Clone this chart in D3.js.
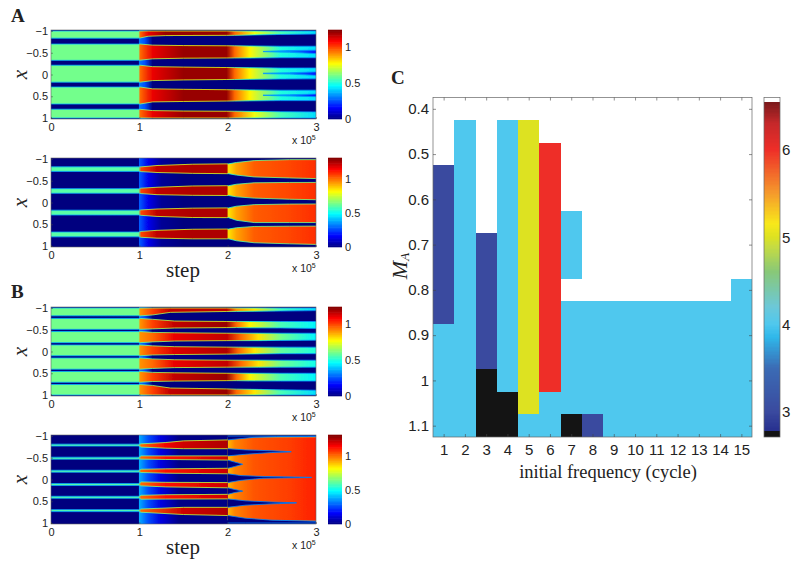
<!DOCTYPE html>
<html><head><meta charset="utf-8">
<script src="https://cdn.jsdelivr.net/npm/d3@7"></script>
<style>
html,body{margin:0;padding:0;background:#fff}
svg{display:block}
text{fill:#222}
.tk{font-family:"Liberation Sans",Arial,sans-serif;font-size:11px}
.tkc{font-family:"Liberation Sans Narrow","Liberation Sans",sans-serif;font-size:15px}
.serif{font-family:"Liberation Serif",serif}
</style></head><body>
<svg id="c" width="800" height="566"></svg>
<script>
// ---------- data: heat-map bands, rows are [step(x10^5), xTop, xBottom, value]
const xTicks=[0,1,2,3], yTicks=[-1,-0.5,0,0.5,1], cbTicks=[0,0.5,1];
const bgA1=[[0,0],[0.99,0],[1.0,0.3],[1.06,0.25],[1.15,0],[3,0]];
const bgA2=[[0,0],[0.99,0],[1.0,0.28],[1.1,0.14],[1.25,0.03],[1.5,0],[3,0]];
const bgB1=[[0,0],[0.99,0],[1.0,0.3],[1.06,0.25],[1.15,0],[3,0]];
const bgB2=[[0,0],[0.99,0],[1.0,0.38],[1.1,0.26],[1.25,0.12],[1.45,0.01],[3,0]];
const bandsA1=[
 [[0,-1,-.835,.6],[.99,-1,-.835,.6],[1.01,-1,-.84,.95],[1.1,-1,-.88,1.1],[1.3,-1,-.895,1.2],[1.99,-1,-.9,1.2],[2.08,-1,-.9,.95],[2.3,-1,-.91,.75],[2.6,-1,-.92,.55],[3,-1,-.93,.42]],
 [[0,-.7,-.326,.6],[.99,-.7,-.326,.6],[1.01,-.7,-.33,.95],[1.15,-.675,-.36,1.1],[1.5,-.665,-.375,1.2],[1.99,-.66,-.38,1.2],[2.08,-.66,-.38,.95],[2.25,-.655,-.38,.78],[2.6,-.65,-.385,.5],[3,-.65,-.385,.42]],
 [[2.4,-.53,-.525,.42],[2.7,-.55,-.51,.32],[3,-.56,-.48,.18]],
 [[0,-.213,.176,.6],[.99,-.213,.176,.6],[1.01,-.213,.176,.95],[1.15,-.18,.14,1.1],[1.5,-.17,.125,1.2],[1.99,-.16,.115,1.2],[2.08,-.16,.115,.95],[2.25,-.155,.11,.78],[2.6,-.15,.105,.5],[3,-.15,.1,.42]],
 [[2.4,-.03,-.02,.42],[2.7,-.04,-.01,.32],[3,-.06,.02,.18]],
 [[0,.288,.678,.6],[.99,.288,.678,.6],[1.01,.288,.678,.95],[1.15,.33,.63,1.1],[1.5,.34,.62,1.2],[1.99,.35,.61,1.2],[2.08,.35,.61,.95],[2.25,.355,.605,.78],[2.6,.36,.6,.5],[3,.36,.6,.42]],
 [[2.4,.475,.48,.42],[2.7,.465,.495,.32],[3,.45,.51,.18]],
 [[0,.798,1,.6],[.99,.798,1,.6],[1.01,.8,1,.95],[1.15,.83,1,1.1],[1.5,.84,1,1.2],[1.99,.845,1,1.2],[2.08,.845,1,.95],[2.3,.85,1,.75],[2.6,.855,1,.55],[3,.86,1,.42]]
];
const bandsA2=[
 [[0,-.82,-.715,.6],[.99,-.82,-.715,.6],[1.02,-.82,-.71,1.05],[1.2,-.85,-.69,1.22],[1.6,-.88,-.67,1.24],[1.99,-.888,-.663,1.24],[2.01,-.888,-.663,.85],[2.1,-.92,-.63,.93],[2.3,-.963,-.588,1.02],[2.7,-.985,-.565,1.05],[3,-.985,-.55,1.08]],
 [[0,-.318,-.213,.6],[.99,-.318,-.213,.6],[1.02,-.33,-.205,1.05],[1.2,-.35,-.18,1.22],[1.6,-.38,-.165,1.24],[1.99,-.386,-.161,1.24],[2.01,-.386,-.161,.85],[2.1,-.42,-.13,.93],[2.3,-.453,-.101,1.02],[2.7,-.461,-.075,1.05],[3,-.461,-.064,1.08]],
 [[0,.176,.288,.6],[.99,.176,.288,.6],[1.02,.17,.295,1.05],[1.2,.15,.32,1.22],[1.6,.13,.345,1.24],[1.99,.124,.348,1.24],[2.01,.124,.348,.85],[2.1,.085,.41,.93],[2.3,.049,.461,1.02],[2.7,.036,.461,1.05],[3,.034,.461,1.08]],
 [[0,.678,.79,.6],[.99,.678,.79,.6],[1.02,.665,.8,1.05],[1.2,.64,.82,1.22],[1.6,.615,.835,1.24],[1.99,.61,.835,1.24],[2.01,.61,.835,.85],[2.1,.58,.88,.93],[2.3,.551,.925,1.02],[2.7,.545,.95,1.05],[3,.543,.963,1.08]]
];
const bandsB1=[
 [[0,-1,-.82,.6],[.99,-1,-.82,.6],[1.01,-1,-.82,.9],[1.15,-1,-.84,1.0],[1.35,-1,-.9,1.15],[1.99,-1,-.92,1.15],[2.1,-1,-.92,.9],[2.3,-1,-.925,.8],[2.6,-1,-.93,.55],[3,-1,-.94,.42]],
 [[0,-.76,-.51,.6],[.99,-.76,-.51,.6],[1.01,-.76,-.51,.9],[1.15,-.74,-.52,1.0],[1.4,-.7,-.54,1.15],[1.99,-.69,-.55,1.2],[2.1,-.69,-.55,.95],[2.25,-.69,-.545,.78],[2.6,-.69,-.54,.55],[3,-.69,-.53,.45]],
 [[0,-.459,-.203,.6],[.99,-.459,-.203,.6],[1.01,-.459,-.203,.9],[1.15,-.44,-.22,.95],[1.4,-.43,-.24,1.1],[1.99,-.42,-.25,1.15],[2.15,-.42,-.25,.95],[2.35,-.42,-.25,.8],[2.6,-.42,-.255,.6],[3,-.42,-.26,.45]],
 [[0,-.15,.098,.6],[.99,-.15,.098,.6],[1.01,-.15,.098,.9],[1.15,-.13,.08,1.0],[1.4,-.11,.07,1.12],[1.99,-.1,.06,1.17],[2.12,-.1,.06,.95],[2.3,-.1,.055,.8],[2.6,-.1,.05,.58],[3,-.1,.05,.5]],
 [[0,.15,.406,.6],[.99,.15,.406,.6],[1.01,.15,.406,.9],[1.15,.17,.39,.95],[1.4,.19,.37,1.1],[1.99,.2,.36,1.15],[2.15,.2,.36,.95],[2.35,.2,.36,.8],[2.6,.2,.36,.6],[3,.2,.36,.48]],
 [[0,.459,.707,.6],[.99,.459,.707,.6],[1.01,.459,.707,.9],[1.15,.48,.69,1.0],[1.4,.49,.68,1.15],[1.99,.5,.67,1.2],[2.1,.5,.67,.95],[2.25,.5,.675,.78],[2.6,.5,.68,.55],[3,.5,.68,.45]],
 [[0,.759,1,.6],[.99,.759,1,.6],[1.01,.759,1,.9],[1.15,.78,1,1.0],[1.35,.84,1,1.15],[1.99,.86,1,1.2],[2.1,.865,1,.95],[2.3,.87,1,.8],[2.6,.88,1,.55],[3,.89,1,.42]]
];
const bandsB2=[
 [[2,-.96,.93,.9],[2.08,-.97,.94,.97],[2.3,-.98,.95,1.03],[2.7,-.98,.955,1.06],[3,-.98,.96,1.1]],
 [[2,-1,-.91,0],[2.3,-1,-.97,0],[2.55,-1,-.985,0],[3,-1,-.99,0]],
 [[2,-.708,-.543,0],[2.2,-.68,-.58,0],[2.5,-.66,-.62,0],[2.72,-.64,-.635,0]],
 [[2,-.446,-.258,0],[2.08,-.4,-.3,0],[2.17,-.352,-.348,0]],
 [[2,-.131,.071,0],[2.15,-.09,.02,0],[2.4,-.07,-.03,0],[2.95,-.05,-.045,0]],
 [[2,.191,.341,0],[2.08,.23,.3,0],[2.17,.265,.268,0]],
 [[2,.446,.64,0],[2.2,.49,.59,0],[2.5,.52,.56,0],[2.78,.535,.54,0]],
 [[2,.828,1,0],[2.2,.89,1,0],[2.5,.935,1,0],[3,.96,1,0]],
 [[0,-.813,-.768,.6],[.99,-.813,-.768,.6],[1.02,-.82,-.745,1.0],[1.3,-.85,-.72,1.15],[1.5,-.888,-.708,1.2],[2,-.91,-.708,1.24]],
 [[0,-.513,-.468,.6],[.99,-.513,-.468,.6],[1.02,-.543,-.468,1.0],[1.3,-.543,-.46,1.12],[2,-.543,-.446,1.2]],
 [[0,-.213,-.168,.6],[.99,-.213,-.168,.6],[1.02,-.236,-.161,1.0],[1.3,-.245,-.145,1.12],[2,-.258,-.131,1.2]],
 [[0,.094,.139,.6],[.99,.094,.139,.6],[1.02,.056,.146,1.0],[1.3,.065,.17,1.12],[2,.071,.191,1.2]],
 [[0,.386,.431,.6],[.99,.386,.431,.6],[1.02,.363,.453,1.0],[1.3,.35,.45,1.12],[2,.341,.446,1.2]],
 [[0,.693,.738,.6],[.99,.693,.738,.6],[1.02,.678,.753,1.0],[1.5,.64,.805,1.2],[2,.64,.828,1.24]]
];
const panelTitles=["A","B","C"];
// ---------- data: panel C
const freqs=d3.range(1,16);
const maValues=[.4,.45,.5,.55,.6,.65,.7,.75,.8,.85,.9,.95,1,1.05,1.1];
const maTicks=[.4,.5,.6,.7,.8,.9,1,1.1];
const W=null, K=2.72;
const colFreq1=[W,W,W,3,3,3,3,3,3,3,4,4,4,4,4];
const colFreq2=[W,4,4,4,4,4,4,4,4,4,4,4,4,4,4];
const colFreq3=[W,W,W,W,W,W,3,3,3,3,3,3,K,K,K];
const colFreq4=[W,4,4,4,4,4,4,4,4,4,4,4,4,K,K];
const colFreq5=[W,5,5,5,5,5,5,5,5,5,5,5,5,5,4];
const colFreq6=[W,W,6,6,6,6,6,6,6,6,6,6,6,4,4];
const colFreq7=[W,W,W,W,W,4,4,4,W,4,4,4,4,4,K];
const colFreq8=[W,W,W,W,W,W,W,W,W,4,4,4,4,4,3];
const colFreq9=[W,W,W,W,W,W,W,W,W,4,4,4,4,4,4];
const colFreq10=colFreq9, colFreq11=colFreq9, colFreq12=colFreq9, colFreq13=colFreq9, colFreq14=colFreq9;
const colFreq15=[W,W,W,W,W,W,W,W,4,4,4,4,4,4,4];
const matrixC=[colFreq1,colFreq2,colFreq3,colFreq4,colFreq5,colFreq6,colFreq7,colFreq8,colFreq9,colFreq10,colFreq11,colFreq12,colFreq13,colFreq14,colFreq15];
const cbCStops=[2.71,2.77,2.78,3,3.5,3.85,4,4.2,4.6,4.9,5,5.15,5.5,6,6.3,6.54];
const cbCColors=["#141414","#141414","#27308f","#3a4a9f","#3b6cb5","#2fb7ea","#4fc8ee","#6cc8d8","#88c878","#c8dc40","#dde221","#f8e81a","#f59a2c","#ee2e28","#c5282a","#7d1a1c"];
const cbCTicks=[3,4,5,6];

// ---------- drawing
const svg=d3.select("#c");
const defs=svg.append("defs");
defs.append("filter").attr("id","soft").attr("x","-5%").attr("y","-5%").attr("width","110%").attr("height","110%")
  .append("feGaussianBlur").attr("stdDeviation",0.7);
const jetColor=d3.scaleLinear().domain([0,.125,.375,.625,.875,1])
  .range(["#00007f","#0000ff","#00ffff","#ffff00","#ff0000","#7f0000"]).clamp(true);
let gid=0;
function gradient(rows,x,valueFn,vmax){
  const id="g"+(gid++), a=rows[0][0], b=rows[rows.length-1][0];
  const g=defs.append("linearGradient").attr("id",id).attr("gradientUnits","userSpaceOnUse")
    .attr("x1",x(a)).attr("x2",x(b)).attr("y1",0).attr("y2",0);
  rows.forEach(r=>g.append("stop").attr("offset",(r[0]-a)/(b-a||1)).attr("stop-color",jetColor(valueFn(r)/vmax)));
  return id;
}
function heatPanel(top,bg,bands,cmax,cfg){
  const L=51,R=316,H=89;
  const x=d3.scaleLinear().domain([0,3]).range([L,R]);
  const y=d3.scaleLinear().domain([-1,1]).range([top+1,top+H-1]);
  const clipId="clip"+top;
  defs.append("clipPath").attr("id",clipId).append("rect").attr("x",L).attr("y",top).attr("width",R-L).attr("height",H);
  const outer=svg.append("g").attr("clip-path",`url(#${clipId})`);
  const g=outer.append("g").attr("filter","url(#soft)");
  const bgId=gradient(bg,x,r=>r[1],cmax);
  g.append("rect").attr("x",L-6).attr("y",top-6).attr("width",R-L+12).attr("height",H+12).attr("fill",`url(#${bgId})`);
  bands.forEach(rows=>{
    const area=d3.area().x(r=>x(r[0])).y0(r=>y(r[1])).y1(r=>y(r[2]));
    const fillId=gradient(rows,x,r=>r[3],cmax);
    const rimId=gradient(rows,x,r=>Math.max(r[3]*0.62,0.33),cmax);
    g.append("path").attr("d",area(rows)).attr("fill",`url(#${fillId})`);
    [1,2].forEach(k=>{
      g.append("path").attr("d",d3.line().x(r=>x(r[0])).y(r=>y(r[k]))(rows))
       .attr("fill","none").attr("stroke",`url(#${rimId})`).attr("stroke-width",.8);
    });
  });
  svg.append("rect").attr("x",L).attr("y",top).attr("width",R-L).attr("height",H).attr("fill","none").attr("stroke","#666").attr("stroke-width",.6);
  const fmt=d=>String(d).replace("-","\u2212");
  const ax=svg.append("g").attr("class","tk").attr("transform",`translate(0,${top+H})`)
    .call(d3.axisBottom(x).tickValues(xTicks).tickSize(-2).tickPadding(4).tickFormat(d3.format("d")));
  const ay=svg.append("g").attr("class","tk").attr("transform",`translate(${L},0)`)
    .call(d3.axisLeft(y).tickValues(yTicks).tickSize(-2).tickPadding(3).tickFormat(fmt));
  [ax,ay].forEach(s=>{s.select(".domain").remove();s.selectAll("line").attr("stroke","#444").attr("stroke-width",.5);s.attr("font-family",null).attr("font-size",null);});
  // colour bar
  const cbL=328,cbW=14;
  const cy=d3.scaleLinear().domain([0,cmax]).range([top+H,top]);
  svg.append("g").selectAll("rect").data(d3.range(64)).join("rect")
    .attr("x",cbL).attr("width",cbW)
    .attr("y",i=>cy((i+1)*cmax/64)-.3).attr("height",i=>cy(i*cmax/64)-cy((i+1)*cmax/64)+.6)
    .attr("fill",i=>jetColor((i+.5)/64));
  const ac=svg.append("g").attr("class","tk").attr("transform",`translate(${cbL+cbW},0)`)
    .call(d3.axisRight(cy).tickValues(cbTicks).tickSize(0).tickPadding(3).tickFormat(d=>String(d)));
  ac.select(".domain").remove(); ac.attr("font-family",null).attr("font-size",null);
  // x label on the side
  svg.append("text").attr("class","serif").attr("transform",`translate(27,${top+H/2}) rotate(-90)`)
    .attr("text-anchor","middle").attr("font-size",21).attr("font-style","italic").text("x");
  // exponent
  const ex=svg.append("text").attr("class","tk").attr("x",292).attr("y",top+H+25).attr("style","font-size:10.5px");
  ex.append("tspan").text("x 10");
  ex.append("tspan").attr("dy",-4).attr("style","font-size:7px").text("5");
  if(cfg.step){
    svg.append("text").attr("class","serif").attr("x",183).attr("y",top+H+30).attr("text-anchor","middle")
      .attr("font-size",21).text("step");
  }
}
heatPanel(30,bgA1,bandsA1,1.23,{});
heatPanel(158,bgA2,bandsA2,1.3,{step:true});
heatPanel(307,bgB1,bandsB1,1.23,{});
heatPanel(435,bgB2,bandsB2,1.3,{step:true});
const titlePos=[[11,22],[11,298],[391,84]];
panelTitles.forEach((t,i)=>svg.append("text").attr("class","serif").attr("x",titlePos[i][0]).attr("y",titlePos[i][1])
  .attr("font-size",19).attr("font-weight","bold").text(t));

// Panel C
(function(){
  const L=433,R=752,T=97.5,B=437;
  const x=d3.scaleLinear().domain([.5,15.5]).range([L,R]);
  const y=d3.scaleLinear().domain([.375,1.125]).range([T,B]);
  const col=d3.scaleLinear().domain(cbCStops).range(cbCColors).clamp(true);
  const cells=[];
  matrixC.forEach((c,i)=>c.forEach((v,j)=>{if(v!==null)cells.push({f:freqs[i],m:maValues[j],v});}));
  svg.append("g").attr("shape-rendering","crispEdges").selectAll("rect").data(cells).join("rect")
    .attr("x",d=>Math.round(x(d.f-.5))).attr("width",d=>Math.round(x(d.f+.5))-Math.round(x(d.f-.5)))
    .attr("y",d=>Math.round(y(d.m-.025))).attr("height",d=>Math.round(y(d.m+.025))-Math.round(y(d.m-.025)))
    .attr("fill",d=>col(d.v));
  svg.append("rect").attr("x",L).attr("y",T).attr("width",R-L).attr("height",B-T).attr("fill","none").attr("stroke","#666").attr("stroke-width",.7);
  const bot=svg.append("g").attr("class","tkc").attr("transform",`translate(0,${B})`)
    .call(d3.axisBottom(x).tickValues(freqs).tickSize(-3).tickPadding(7).tickFormat(d3.format("d")));
  const lef=svg.append("g").attr("class","tkc").attr("transform",`translate(${L},0)`)
    .call(d3.axisLeft(y).tickValues(maTicks).tickSize(-3).tickPadding(4).tickFormat(d=>String(d)));
  const topA=svg.append("g").attr("transform",`translate(0,${T})`).call(d3.axisTop(x).tickValues(freqs).tickSize(-3).tickFormat(""));
  const rig=svg.append("g").attr("transform",`translate(${R},0)`).call(d3.axisRight(y).tickValues(maTicks).tickSize(-3).tickFormat(""));
  [bot,lef,topA,rig].forEach(s=>{s.select(".domain").remove();s.selectAll("line").attr("stroke","#444").attr("stroke-width",.6);s.attr("font-family",null).attr("font-size",null);});
  // colour bar
  const cbL=764,cbR=780;
  const cy=d3.scaleLinear().domain([3,6]).range([411.7,150]);
  const levels=d3.range(2.71,6.54,0.015);
  svg.append("g").attr("shape-rendering","crispEdges").selectAll("rect").data(levels).join("rect")
    .attr("x",cbL).attr("width",cbR-cbL)
    .attr("y",d=>cy(d+.015)-.2).attr("height",cy(2)-cy(2.015)+.6)
    .attr("fill",d=>col(d));
  svg.append("rect").attr("x",cbL).attr("y",T).attr("width",cbR-cbL).attr("height",B-T).attr("fill","none").attr("stroke","#666").attr("stroke-width",.7);
  const ac=svg.append("g").attr("class","tkc").attr("transform",`translate(${cbR},0)`)
    .call(d3.axisRight(cy).tickValues(cbCTicks).tickSize(0).tickPadding(2).tickFormat(d=>String(d)));
  ac.select(".domain").remove(); ac.attr("font-family",null).attr("font-size",null);
  svg.append("text").attr("class","serif").attr("x",(527+689)/2).attr("y",478).attr("text-anchor","middle").attr("font-size",18.5).text("initial frequency (cycle)");
  const my=svg.append("text").attr("class","serif").attr("transform","translate(407,266) rotate(-90)").attr("text-anchor","middle").attr("font-style","italic").attr("font-size",22);
  my.append("tspan").text("M");
  my.append("tspan").attr("dy",2).attr("font-size",13).text("A");
})();
</script></body></html>
